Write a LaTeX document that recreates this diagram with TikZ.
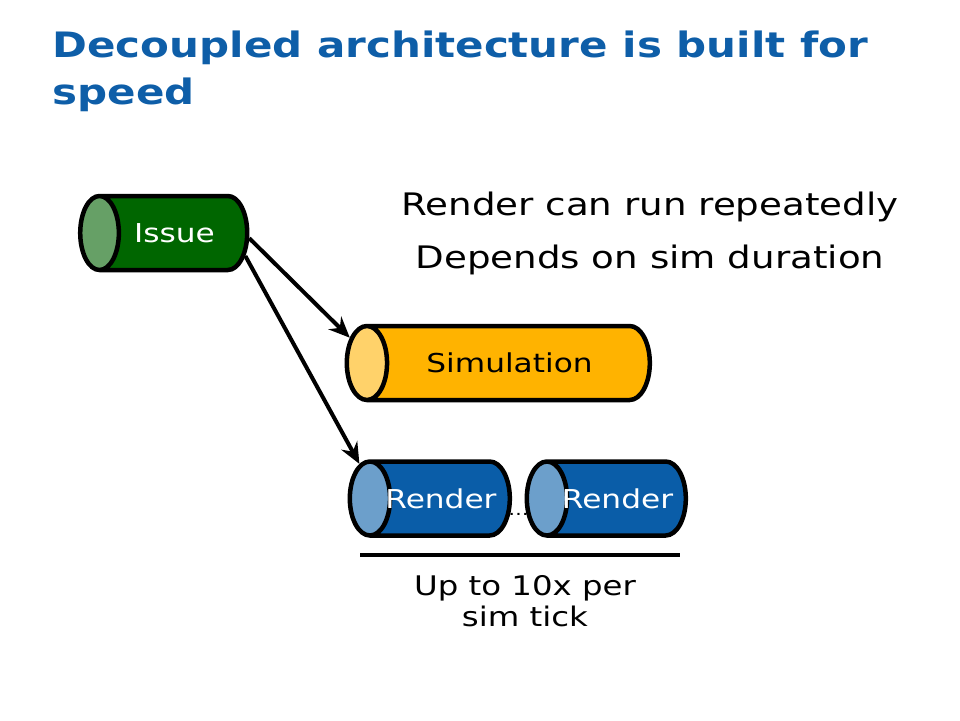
\documentclass[tikz,border=0pt]{standalone}
\usepackage{fontspec}
\setmainfont{DejaVu Sans}[FakeStretch=1.2]
\usepackage{xcolor}
\usetikzlibrary{shapes.geometric,arrows.meta}

\definecolor{titleblue}{RGB}{14,94,168}
\definecolor{issuedark}{RGB}{0,102,0}
\definecolor{issuelight}{RGB}{102,160,102}
\definecolor{simdark}{RGB}{255,179,0}
\definecolor{simlight}{RGB}{255,210,106}
\definecolor{renddark}{RGB}{10,93,168}
\definecolor{rendlight}{RGB}{108,159,203}

\begin{document}
\begin{tikzpicture}[x=1pt,y=-1pt,
    tube/.style={cylinder,shape border rotate=180,draw=black,line width=4.5pt,
                 cylinder uses custom fill,aspect=2,minimum width=74pt,
                 inner sep=0pt,font=\fontsize{26}{30}\selectfont},
    flow/.style={line width=4pt,-{Stealth[length=21pt,width=18pt,inset=7pt]}},
    saying/.style={font=\fontsize{31}{36}\selectfont,anchor=base}]
  \useasboundingbox (0,0) rectangle (960,720);
  % title
  \node[anchor=base west,font=\fontsize{35}{40}\bfseries,text=titleblue]
    (title1) at (49,57) {Decoupled architecture is built for};
  \node[anchor=base west,font=\fontsize{35}{40}\bfseries,text=titleblue]
    (title2) at (49,104) {speed};
  \node[saying] (say1) at (650,215) {Render can run repeatedly};
  \node[saying] (say2) at (650,268) {Depends on sim duration};
  % stages
  \node[tube,minimum height=167pt,cylinder body fill=issuedark,
        cylinder end fill=issuelight,text=white] (issue) at (174.5,233) {Issue};
  \node[tube,minimum height=303pt,cylinder body fill=simdark,
        cylinder end fill=simlight] (sim) at (509.5,363) {Simulation};
  \node[tube,minimum height=160pt,inner xsep=-12pt,cylinder body fill=renddark,
        cylinder end fill=rendlight,text=white] (rend1) at (441,498.5) {Render};
  \node[tube,minimum height=159pt,inner xsep=-12pt,cylinder body fill=renddark,
        cylinder end fill=rendlight,text=white] (rend2) at (617.5,498.5) {Render};
  \node[font=\fontsize{17}{17}\selectfont,inner sep=0pt] (dots) at (518.5,514) {\ldots};
  \draw[flow] (issue.-4) -- (sim.171);
  \draw[flow] (issue.-18) -- (rend1.157);
  % span of the renders
  \draw[line width=4pt] (360,555) -- (680,555);
  \node[saying,font=\fontsize{27}{30}\selectfont] (span1) at (525,595) {Up to 10x per};
  \node[saying,font=\fontsize{27}{30}\selectfont] (span2) at (525,626) {sim tick};
\end{tikzpicture}
\end{document}
